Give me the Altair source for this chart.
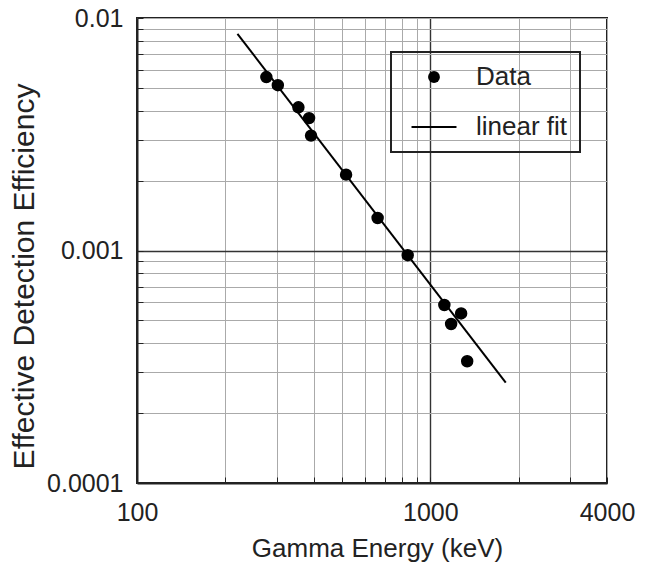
import altair as alt
import pandas as pd

# ---- data ----
energy_kev = [276, 302, 355, 386, 392, 516, 661, 837, 1116, 1273, 1177, 1335]
efficiency = [0.00557, 0.00514, 0.00413, 0.00371, 0.00312, 0.00212, 0.00138,
              0.000955, 0.000583, 0.000536, 0.000483, 0.000334]
fit_energy_kev = [220, 1807]
fit_efficiency = [0.00855, 0.00027]
series_names = ["Data", "linear fit"]

x_ticks = [100, 200, 300, 400, 500, 600, 700, 800, 900, 1000, 2000, 3000, 4000]
x_labelled = [100, 1000, 4000]
y_ticks = [0.0001, 0.0002, 0.0003, 0.0004, 0.0005, 0.0006, 0.0007, 0.0008, 0.0009,
           0.001, 0.002, 0.003, 0.004, 0.005, 0.006, 0.007, 0.008, 0.009, 0.01]
y_labelled = ["0.0001", "0.001", "0.01"]

FONT = "Liberation Sans"
TEXT = "#222222"

points = pd.DataFrame({"energy": energy_kev, "eff": efficiency,
                       "series": [series_names[0]] * len(energy_kev)})
fit = pd.DataFrame({"energy": fit_energy_kev, "eff": fit_efficiency,
                    "series": [series_names[1]] * len(fit_energy_kev)})

x_label_expr = " : ".join(
    [f"datum.value == {v} ? '{v}'" for v in x_labelled]) + " : ''"
y_label_expr = " : ".join(
    [f"datum.value == {v} ? '{v}'" for v in y_labelled]) + " : ''"

x_enc = alt.X(
    "energy:Q",
    scale=alt.Scale(type="log", domain=[100, 4000]),
    axis=alt.Axis(
        title="Gamma Energy (keV)",
        values=x_ticks,
        labelExpr=x_label_expr,
        labelOverlap=False,
        labelFlush=False,
        labelPadding=23,
        tickSize={"expr": "-6"},
        tickColor="#222222",
        grid=True,
        gridColor={"condition": {"test": "datum.value == 1000", "value": "#333333"},
                   "value": "#aaaaaa"},
        gridWidth={"condition": {"test": "datum.value == 1000", "value": 1.4},
                   "value": 1},
        titleX=240,
        titleY=73,
        titleFontSize=26,
        titleBaseline="alphabetic",
        titleAlign="center",
    ),
)

y_enc = alt.Y(
    "eff:Q",
    scale=alt.Scale(type="log", domain=[0.0001, 0.01]),
    axis=alt.Axis(
        title="Effective Detection Efficiency",
        values=y_ticks,
        labelExpr=y_label_expr,
        labelOverlap=False,
        labelFlush=False,
        labelPadding=20,
        tickSize={"expr": "-6"},
        tickColor="#222222",
        grid=True,
        gridColor={"condition": {"test": "datum.value == 0.001", "value": "#333333"},
                   "value": "#aaaaaa"},
        gridWidth={"condition": {"test": "datum.value == 0.001", "value": 1.4},
                   "value": 1},
        titleX=-104,
        titleY=258,
        titleFontSize=30,
        titleBaseline="alphabetic",
        titleAlign="center",
        titleAngle=270,
    ),
)

line = alt.Chart(fit).mark_line(color="black", strokeWidth=2).encode(
    x=x_enc, y=y_enc
)

dots = alt.Chart(points).mark_point(
    filled=True, fill="black", stroke="black", strokeWidth=1.5, size=120, opacity=1
).encode(
    x=x_enc,
    y=y_enc,
    shape=alt.Shape(
        "series:N",
        scale=alt.Scale(domain=series_names,
                        range=["circle", "M-3.8,-0.17H3.8V0.17H-3.8Z"]),
        legend=alt.Legend(
            title=None,
            orient="none",
            legendX=254,
            legendY=34,
            padding=12,
            symbolOffset=18,
            labelOffset=29,
            rowPadding=24,
            symbolSize=140,
            symbolFillColor="black",
            symbolStrokeColor="black",
            symbolStrokeWidth=0,
            labelFontSize=26,
            labelFont=FONT,
            labelColor=TEXT,
            strokeColor="#222222",
        ),
    ),
)

chart = (
    alt.layer(line, dots)
    .properties(
        width=470,
        height=465,
        autosize=alt.AutoSizeParams(type="none"),
        padding={"left": 129, "top": 10, "right": 35, "bottom": 84},
    )
    .configure_view(stroke="#222222", strokeWidth=2)
    .configure_axis(
        labelFont=FONT,
        labelFontSize=25,
        labelColor=TEXT,
        titleFont=FONT,
        titleFontSize=25,
        titleColor=TEXT,
        titleFontWeight="normal",
        domainColor="#222222",
        domainWidth=2,
    )
    .configure_legend(strokeWidth=2)
)

chart.save("out.html", embed_options={"renderer": "svg", "actions": False})
